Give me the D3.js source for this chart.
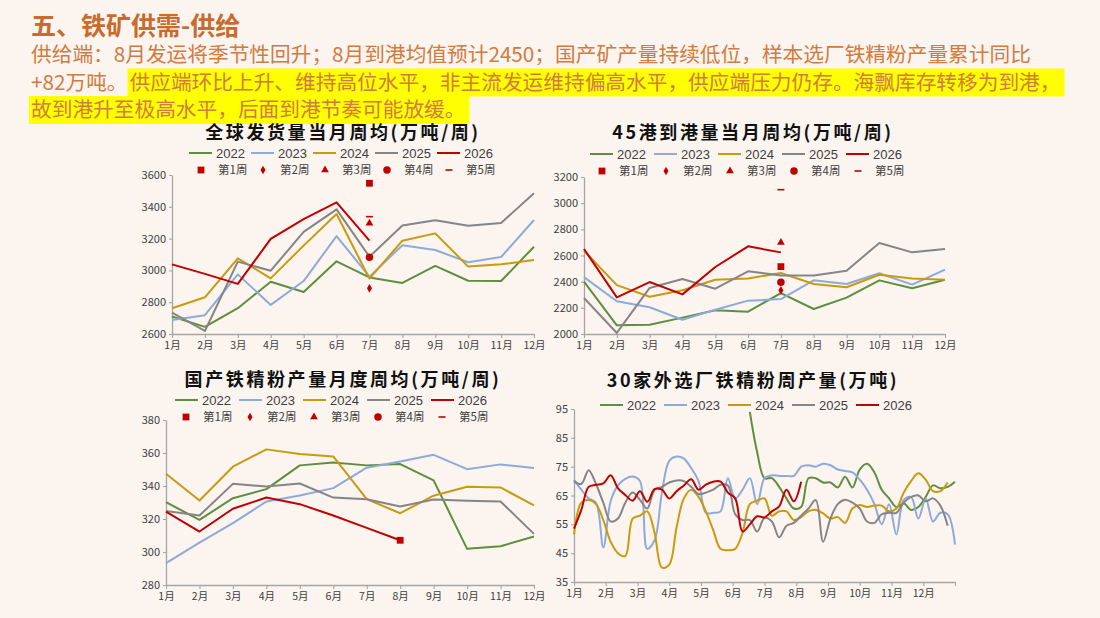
<!DOCTYPE html>
<html>
<head>
<meta charset="utf-8">
<script src="https://cdn.jsdelivr.net/npm/d3@7"></script>
<style>
  body { margin: 0; background: #FBF4EF; }
  svg { display: block; font-family: "Noto Sans CJK SC", "Noto Sans", sans-serif; }
</style>
</head>
<body>
<svg id="page" width="1100" height="618"></svg>
<script>
var months = ["1月","2月","3月","4月","5月","6月","7月","8月","9月","10月","11月","12月"];
var years = ["2022","2023","2024","2025","2026"];
var yearColors = ["#5E8F3E","#8EAADB","#C99A0E","#858585","#C00000"];
var weekNames = ["第1周","第2周","第3周","第4周","第5周"];

// 全球发货量当月周均, one row per year
var shipSeries = [
  [2710,2645,2762,2929,2864,3057,2956,2921,3028,2935,2933,3149],
  [2688,2718,2975,2783,2933,3216,2961,3158,3128,3051,3084,3317],
  [2762,2831,3076,2950,3156,3355,2948,3187,3233,3024,3038,3066],
  [2734,2619,3055,2998,3242,3384,3086,3283,3315,3281,3298,3485],
  [3038,2978,2915,3198,3323,3428,3187]
];
var shipWeekMonth = "7月";
var shipWeeks = [3548,2887,3296,3082,3338];

// 45港到港量当月周均
var arriveSeries = [
  [2400,2066,2071,2125,2181,2171,2313,2191,2278,2410,2349,2415],
  [2435,2250,2204,2109,2186,2255,2267,2410,2382,2464,2377,2492],
  [2637,2374,2285,2334,2415,2425,2466,2382,2357,2453,2425,2415],
  [2275,2008,2352,2420,2346,2479,2448,2448,2484,2696,2624,2650],
  [2650,2280,2397,2303,2512,2670,2624]
];
var arriveWeekMonth = "7月";
var arriveWeeks = [2515,2334,2700,2395,3103];

// 国产铁精粉产量月度周均
var domSeries = [
  [330.2,319.5,332.6,338.1,352.5,354.3,352.5,353.3,343.4,301.9,303.5,309.4],
  [293.2,305.7,317.5,330.6,334.3,338.7,351.1,354.9,358.9,350.2,353.1,350.9],
  [347.4,331.2,351.7,362.2,359.4,357.9,332.0,323.5,334.1,339.5,339.1,328.2],
  [324.9,322.1,341.3,339.7,341.5,333.0,332.0,327.6,331.8,331.0,330.6,311.0],
  [324.5,312.4,326.2,333.0,329.0,322.1,314.6,307.1]
];
var domWeekMonth = "8月";
var domWeeks = [307.1];

// 30家外选厂铁精粉周产量, weekly values; first week index per year
var millStart = [24,0,0,0,0];
var millSeries = [
  [94,80,71,71,68,64,60.5,61,71,71,69.5,69.5,67.8,71.5,67.8,74,76,73,67,64,61,62.3,60,61,64.5,68.5,67.5,68,69.8],
  [70.4,67,64,62.5,47,63,68.5,70.8,71.6,70,46.5,49.5,66,77,78.5,77.8,74.5,70,59,59,59.5,71,64,67,71,62,71,72,71.8,71.8,71.8,75,75.5,75,76,75.5,74,73.5,73,70.5,67,62,55,62,51.5,63.5,64.5,57,64,56,59,58.5,48],
  [51.5,62.5,63.4,62,56.5,49,45,44,57,58,59.5,52,40,41,54,64,67,64.5,59.5,53,46.5,46,46.5,52,62,63.2,64,58,59.5,59.5,56.5,57.5,59.5,60,58.8,57,57.5,55.5,60.5,61.7,61,61.5,61.5,59.5,60.5,66,70,72.7,70.5,66.5,66.5,69.5],
  [70,69,73.8,69,62.5,56,57,62.5,66,63.5,60.5,67,68,69.5,70.2,70,68,65.5,66,67,68.7,68.5,58.5,56.5,56.5,52.5,57.2,56,50.5,54.5,55.5,58,60.5,63.4,49,57,62,63.5,62.5,60.5,56,55.5,58.5,59,59,62.5,64.5,65,63,64,61.5,54.5],
  [53.5,60,68,68.7,69.2,72,67.5,65.2,63.2,66.5,62.8,67.2,67,64,66.5,68.5,70.6,67,68.8,69.8,69.8,66,64,52.5,55,57.8,57.4,59.5,61.2,67,63,69.8]
];

var svg = d3.select("#page");
var markRed = "#C00000";
var axisGray = "#A6A6A6";
var textDark = "#404040";

function header() {
  var orange = "#D27B3E";
  svg.append("text").attr("x", 31).attr("y", 35)
    .attr("font-size", 25).attr("font-weight", 700).attr("fill", "#C96B2C")
    .text("五、铁矿供需-供给");

  var lines = [
    { plain: "供给端：8月发运将季节性回升；8月到港均值预计2450；国产矿产量持续低位，样本选厂铁精粉产量累计同比", mark: "" },
    { plain: "+82万吨。", mark: "供应端环比上升、维持高位水平，非主流发运维持偏高水平，供应端压力仍存。海飘库存转移为到港，" },
    { plain: "", mark: "故到港升至极高水平，后面到港节奏可能放缓。" }
  ];
  lines.forEach(function(l, i) {
    var base = 62 + i * 27.5;
    var x = 31;
    if (l.plain) {
      var t = svg.append("text").attr("x", x).attr("y", base)
        .attr("font-size", 20.7).attr("fill", orange).text(l.plain);
      x += t.node().getComputedTextLength() + 2;
    }
    if (l.mark) {
      var bg = svg.append("rect").attr("fill", "#FFFF00");
      var m = svg.append("text").attr("x", x).attr("y", base)
        .attr("font-size", 20.7).attr("fill", orange).text(l.mark);
      var w = m.node().getComputedTextLength();
      bg.attr("x", x - 2).attr("y", base - 21).attr("width", w + 6).attr("height", 28);
    }
  });
}

function drawMarker(g, i, x, y) {
  if (i === 4) {
    g.append("line").attr("x1", x - 3.5).attr("x2", x + 3.5)
      .attr("y1", y).attr("y2", y)
      .attr("stroke", markRed).attr("stroke-width", 1.6);
    return;
  }
  var types = [d3.symbolSquare, d3.symbolDiamond, d3.symbolTriangle, d3.symbolCircle];
  var sizes = [46, 22, 26, 44];
  g.append("path")
    .attr("transform", "translate(" + x + "," + y + ")")
    .attr("d", d3.symbol().type(types[i]).size(sizes[i])())
    .attr("fill", markRed);
}

function legend(g, opt) {
  years.forEach(function(yr, i) {
    var lx = opt.lx + i * opt.step;
    g.append("line").attr("x1", lx).attr("x2", lx + 23)
      .attr("y1", opt.ly1).attr("y2", opt.ly1)
      .attr("stroke", yearColors[i]).attr("stroke-width", 2);
    g.append("text").attr("x", lx + 27).attr("y", opt.ly1).attr("dy", "0.36em")
      .attr("font-size", 13).attr("font-family", "'Liberation Sans', Arial, sans-serif")
      .attr("fill", textDark).text(yr);
  });
  if (opt.ly2 == null) return;
  weekNames.forEach(function(w, i) {
    var mx = opt.mx + i * opt.step;
    drawMarker(g, i, mx, opt.ly2);
    g.append("text").attr("x", mx + 17).attr("y", opt.ly2).attr("dy", "0.36em")
      .attr("font-size", 11.5).attr("fill", textDark).text(w);
  });
}

function styleAxis(sel) {
  sel.select(".domain").attr("stroke", axisGray).attr("stroke-width", 1.3);
  sel.selectAll(".tick line").attr("stroke", axisGray).attr("stroke-width", 1.1);
  sel.selectAll(".tick text").attr("fill", textDark).style("font-family", "'Noto Sans CJK SC', sans-serif");
}

function title(g, x, y, txt) {
  g.append("text").attr("x", x).attr("y", y).attr("text-anchor", "middle")
    .attr("dy", "0.36em").attr("font-size", 18).attr("font-weight", 700)
    .attr("fill", "#111").attr("letter-spacing", 2.6).text(txt);
}

function monthlyChart(opt) {
  var g = svg.append("g");
  var x = d3.scalePoint().domain(months).range([opt.x0, opt.x1]);
  var y = d3.scaleLinear().domain(opt.yDomain).range([opt.yb, opt.yt]);

  var yAxis = g.append("g").attr("transform", "translate(" + opt.x0 + ",0)")
    .call(d3.axisLeft(y).tickValues(d3.range(opt.yDomain[0], opt.yDomain[1] + 1, opt.yStep))
      .tickFormat(d3.format("d"))
      .tickSize(3).tickSizeOuter(0).tickPadding(3));
  yAxis.selectAll(".tick text").attr("font-size", 11);
  styleAxis(yAxis);

  var xAxis = g.append("g").attr("transform", "translate(0," + opt.yb + ")")
    .call(d3.axisBottom(x).tickSize(4).tickSizeOuter(0).tickPadding(4));
  xAxis.selectAll(".tick text").attr("font-size", 10.5);
  styleAxis(xAxis);

  var line = d3.line()
    .x(function(d, i) { return x(months[i]); })
    .y(function(d) { return y(d); });

  opt.series.forEach(function(vals, i) {
    g.append("path").datum(vals)
      .attr("d", line)
      .attr("fill", "none")
      .attr("stroke", yearColors[i])
      .attr("stroke-width", 2)
      .attr("stroke-linejoin", "round");
  });

  opt.weeks.forEach(function(v, i) {
    drawMarker(g, i, x(opt.weekMonth), y(v));
  });

  title(g, opt.tx, opt.ty, opt.title);
  legend(g, opt.legend);
}

function weeklyChart(opt) {
  var g = svg.append("g");
  var x = d3.scaleLinear().domain([0, 52]).range([opt.x0, opt.x1]);
  var y = d3.scaleLinear().domain([35, 95]).range([opt.yb, opt.yt]);

  var yAxis = g.append("g").attr("transform", "translate(" + opt.x0 + ",0)")
    .call(d3.axisLeft(y).tickValues(d3.range(35, 96, 10)).tickSize(3).tickSizeOuter(0).tickPadding(3));
  yAxis.selectAll(".tick text").attr("font-size", 11);
  styleAxis(yAxis);

  var monthTicks = d3.range(0, 13).map(function(i) { return i * 52 / 12; });
  var xAxis = g.append("g").attr("transform", "translate(0," + opt.yb + ")")
    .call(d3.axisBottom(x).tickValues(monthTicks)
      .tickFormat(function(d, i) { return months[i] || ""; })
      .tickSize(4).tickSizeOuter(0).tickPadding(4));
  xAxis.selectAll(".tick text").attr("font-size", 10.5);
  styleAxis(xAxis);

  var line = d3.line().curve(d3.curveCatmullRom.alpha(0.5))
    .x(function(d) { return x(d.w); })
    .y(function(d) { return y(d.v); });

  opt.series.forEach(function(vals, i) {
    var pts = vals.map(function(v, k) { return { w: opt.start[i] + k, v: v }; });
    g.append("path").datum(pts)
      .attr("d", line)
      .attr("fill", "none")
      .attr("stroke", yearColors[i])
      .attr("stroke-width", 2)
      .attr("stroke-linejoin", "round");
  });

  title(g, opt.tx, opt.ty, opt.title);
  legend(g, opt.legend);
}

header();

monthlyChart({
  x0: 172, x1: 534, yt: 175, yb: 334, yDomain: [2600, 3600], yStep: 200,
  series: shipSeries, weeks: shipWeeks, weekMonth: shipWeekMonth,
  title: "全球发货量当月周均(万吨/周)", tx: 343, ty: 133,
  legend: { lx: 189, ly1: 153, mx: 201, ly2: 170, step: 62 }
});

monthlyChart({
  x0: 584, x1: 945, yt: 177, yb: 334, yDomain: [2000, 3200], yStep: 200,
  series: arriveSeries, weeks: arriveWeeks, weekMonth: arriveWeekMonth,
  title: "45港到港量当月周均(万吨/周)", tx: 753, ty: 133,
  legend: { lx: 590, ly1: 154, mx: 602, ly2: 171, step: 64 }
});

monthlyChart({
  x0: 166, x1: 534, yt: 420, yb: 585, yDomain: [280, 380], yStep: 20,
  series: domSeries, weeks: domWeeks, weekMonth: domWeekMonth,
  title: "国产铁精粉产量月度周均(万吨/周)", tx: 343, ty: 380,
  legend: { lx: 175, ly1: 400, mx: 186, ly2: 417, step: 64 }
});

weeklyChart({
  x0: 574, x1: 955, yt: 409, yb: 582,
  series: millSeries, start: millStart,
  title: "30家外选厂铁精粉周产量(万吨)", tx: 753, ty: 381,
  legend: { lx: 600, ly1: 405, step: 64 }
});
</script>
</body>
</html>
